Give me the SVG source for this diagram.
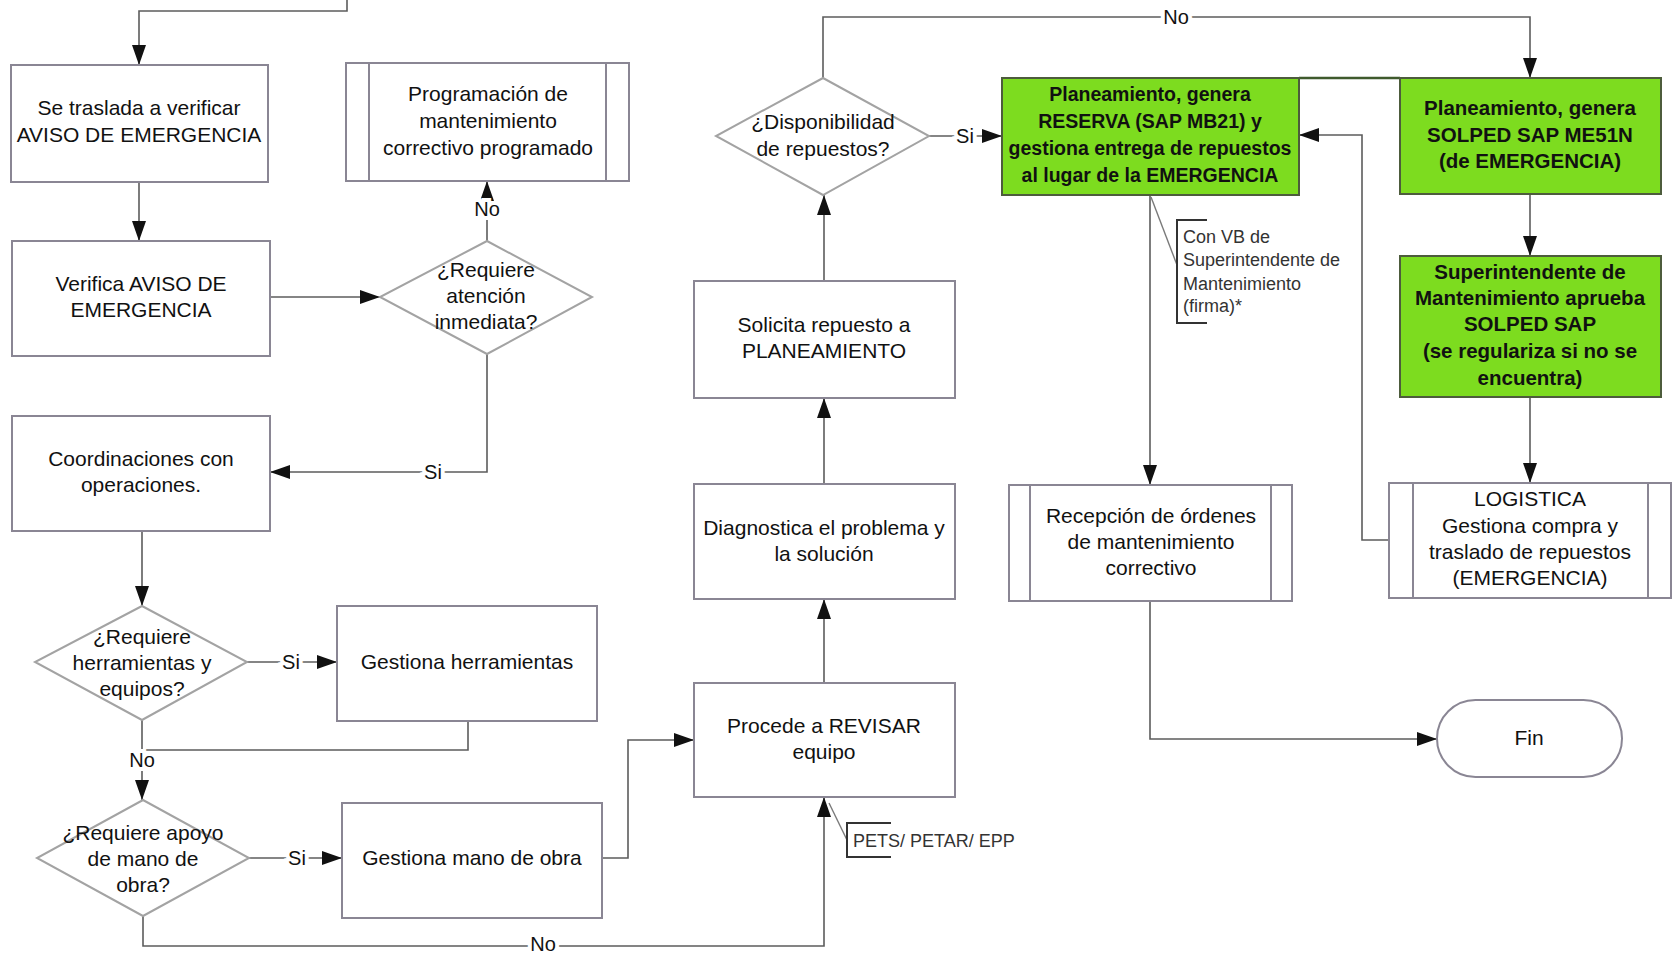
<svg xmlns="http://www.w3.org/2000/svg" width="1678" height="953" viewBox="0 0 1678 953">
  <style>
    .box { fill: #ffffff; stroke: #8a8694; stroke-width: 2; }
    .dia { fill: #ffffff; stroke: #a3a3a3; stroke-width: 2; }
    .green { fill: #7ddc1f; stroke: #4d5c3c; stroke-width: 2; }
    .inner { stroke: #8a8694; stroke-width: 2; fill: none; }
    .t { font-family: "Liberation Sans", Arial, sans-serif; font-size: 21px; fill: #111111; text-anchor: middle; }
    .b { font-family: "Liberation Sans", Arial, sans-serif; font-size: 20.5px; font-weight: bold; fill: #111111; text-anchor: middle; }
    .bs { font-size: 19.5px; }
    .note { font-family: "Liberation Sans", Arial, sans-serif; font-size: 18px; fill: #333333; }
    .lbl { font-family: "Liberation Sans", Arial, sans-serif; font-size: 20px; fill: #111111; text-anchor: middle; paint-order: stroke; stroke: #ffffff; stroke-width: 8px; }
    .c { fill: none; stroke: #5c5c5c; stroke-width: 1.6; }
    .ca { fill: none; stroke: #5c5c5c; stroke-width: 1.6; marker-end: url(#arr); }
    .thin { fill: none; stroke: #7a7a7a; stroke-width: 1.4; }
    .brk { fill: none; stroke: #333333; stroke-width: 2; }
  </style>
  <defs>
    <marker id="arr" markerUnits="userSpaceOnUse" markerWidth="20" markerHeight="14" viewBox="0 0 20 14" refX="20" refY="7" orient="auto">
      <path d="M0,0 L20,7 L0,14 Z" fill="#111111"/>
    </marker>
  </defs>
  <rect x="0" y="0" width="1678" height="953" fill="#ffffff"/>

  <!-- connectors -->
  <g id="connectors">
    <path class="ca" d="M347,0 V11 H139 V65"/>
    <path class="ca" d="M139,182 V241"/>
    <path class="ca" d="M270,297 H380"/>
    <path class="ca" d="M487,241 V181"/>
    <path class="ca" d="M487,354 V472 H270"/>
    <path class="ca" d="M142,531 V606"/>
    <path class="ca" d="M247,662 H337"/>
    <path class="c" d="M468,721 V750 H142"/>
    <path class="ca" d="M142,720 V800"/>
    <path class="ca" d="M249,858 H342"/>
    <path class="ca" d="M602,858 H628 V740 H694"/>
    <path class="ca" d="M143,916 V946 H824 V797"/>
    <path class="ca" d="M824,683 V599"/>
    <path class="ca" d="M824,484 V398"/>
    <path class="ca" d="M824,281 V195"/>
    <path class="ca" d="M929,136 H1002"/>
    <path class="ca" d="M823,78 V17 H1530 V78"/>
    <path class="ca" d="M1530,194 V256"/>
    <path class="ca" d="M1530,397 V483"/>
    <path class="ca" d="M1389,540 H1362 V135 H1299"/>
    <path class="ca" d="M1150,195 V485"/>
    <path class="ca" d="M1150,601 V739 H1437"/>
    <!-- branch labels -->
    <text class="lbl" x="487" y="216">No</text>
    <text class="lbl" x="433" y="479">Si</text>
    <text class="lbl" x="291" y="669">Si</text>
    <text class="lbl" x="142" y="767">No</text>
    <text class="lbl" x="297" y="865">Si</text>
    <text class="lbl" x="543" y="951">No</text>
    <text class="lbl" x="965" y="143">Si</text>
    <text class="lbl" x="1176" y="24">No</text>
  </g>

  <g id="n-traslada">
    <rect class="box" x="11" y="65" width="257" height="117"/>
    <text class="t" x="139" y="115">Se traslada a verificar</text>
    <text class="t" x="139" y="142">AVISO DE EMERGENCIA</text>
  </g>

  <g id="n-verifica">
    <rect class="box" x="12" y="241" width="258" height="115"/>
    <text class="t" x="141" y="291">Verifica AVISO DE</text>
    <text class="t" x="141" y="317">EMERGENCIA</text>
  </g>

  <g id="d-atencion">
    <polygon class="dia" points="487,241 592,297 487,354 380,297"/>
    <text class="t" x="486" y="277">¿Requiere</text>
    <text class="t" x="486" y="303">atención</text>
    <text class="t" x="486" y="329">inmediata?</text>
  </g>

  <g id="n-programacion">
    <rect class="box" x="346" y="63" width="283" height="118"/>
    <path class="inner" d="M369,63 V181 M606,63 V181"/>
    <text class="t" x="488" y="101">Programación de</text>
    <text class="t" x="488" y="128">mantenimiento</text>
    <text class="t" x="488" y="155">correctivo programado</text>
  </g>

  <g id="n-coordinaciones">
    <rect class="box" x="12" y="416" width="258" height="115"/>
    <text class="t" x="141" y="466">Coordinaciones con</text>
    <text class="t" x="141" y="492">operaciones.</text>
  </g>

  <g id="d-herramientas">
    <polygon class="dia" points="142,606 247,662 142,720 35,662"/>
    <text class="t" x="142" y="644">¿Requiere</text>
    <text class="t" x="142" y="670">herramientas y</text>
    <text class="t" x="142" y="696">equipos?</text>
  </g>

  <g id="n-herramientas">
    <rect class="box" x="337" y="606" width="260" height="115"/>
    <text class="t" x="467" y="669">Gestiona herramientas</text>
  </g>

  <g id="d-manoobra">
    <polygon class="dia" points="143,800 249,858 143,916 37,858"/>
    <text class="t" x="143" y="840">¿Requiere apoyo</text>
    <text class="t" x="143" y="866">de mano de</text>
    <text class="t" x="143" y="892">obra?</text>
  </g>

  <g id="n-manoobra">
    <rect class="box" x="342" y="803" width="260" height="115"/>
    <text class="t" x="472" y="865">Gestiona mano de obra</text>
  </g>

  <g id="n-revisar">
    <rect class="box" x="694" y="683" width="261" height="114"/>
    <text class="t" x="824" y="733">Procede a REVISAR</text>
    <text class="t" x="824" y="759">equipo</text>
  </g>

  <g id="a-pets">
    <path class="thin" d="M829,803 L847,840"/>
    <path class="brk" d="M891,823 H847 V857 H891"/>
    <text class="note" x="853" y="847">PETS/ PETAR/ EPP</text>
  </g>

  <g id="n-diagnostica">
    <rect class="box" x="694" y="484" width="261" height="115"/>
    <text class="t" x="824" y="535">Diagnostica el problema y</text>
    <text class="t" x="824" y="561">la solución</text>
  </g>

  <g id="n-solicita">
    <rect class="box" x="694" y="281" width="261" height="117"/>
    <text class="t" x="824" y="332">Solicita repuesto a</text>
    <text class="t" x="824" y="358">PLANEAMIENTO</text>
  </g>

  <g id="d-disponibilidad">
    <polygon class="dia" points="823,78 929,136 823,195 716,136"/>
    <text class="t" x="823" y="129">¿Disponibilidad</text>
    <text class="t" x="823" y="156">de repuestos?</text>
  </g>

  <g id="n-reserva">
    <line x1="1299" y1="78" x2="1400" y2="78" stroke="#3f5a2c" stroke-width="2.5"/>
    <rect class="green" x="1002" y="78" width="297" height="117"/>
    <text class="b bs" x="1150" y="101">Planeamiento, genera</text>
    <text class="b bs" x="1150" y="128">RESERVA (SAP MB21) y</text>
    <text class="b bs" x="1150" y="155">gestiona entrega de repuestos</text>
    <text class="b bs" x="1150" y="182">al lugar de la EMERGENCIA</text>
  </g>

  <g id="a-vb">
    <path class="thin" d="M1151,197 L1177,265"/>
    <path class="brk" d="M1207,220 H1177 V323 H1207"/>
    <text class="note" x="1183" y="243">Con VB de</text>
    <text class="note" x="1183" y="266">Superintendente de</text>
    <text class="note" x="1183" y="290">Mantenimiento</text>
    <text class="note" x="1183" y="312">(firma)*</text>
  </g>

  <g id="n-solped">
    <rect class="green" x="1400" y="78" width="261" height="116"/>
    <text class="b" x="1530" y="115">Planeamiento, genera</text>
    <text class="b" x="1530" y="142">SOLPED SAP ME51N</text>
    <text class="b" x="1530" y="168">(de EMERGENCIA)</text>
  </g>

  <g id="n-aprueba">
    <rect class="green" x="1400" y="256" width="261" height="141"/>
    <text class="b" x="1530" y="279">Superintendente de</text>
    <text class="b" x="1530" y="305">Mantenimiento aprueba</text>
    <text class="b" x="1530" y="331">SOLPED SAP</text>
    <text class="b" x="1530" y="358">(se regulariza si no se</text>
    <text class="b" x="1530" y="385">encuentra)</text>
  </g>

  <g id="n-recepcion">
    <rect class="box" x="1009" y="485" width="283" height="116"/>
    <path class="inner" d="M1030,485 V601 M1271,485 V601"/>
    <text class="t" x="1151" y="523">Recepción de órdenes</text>
    <text class="t" x="1151" y="549">de mantenimiento</text>
    <text class="t" x="1151" y="575">correctivo</text>
  </g>

  <g id="n-logistica">
    <rect class="box" x="1389" y="483" width="282" height="115"/>
    <path class="inner" d="M1413,483 V598 M1648,483 V598"/>
    <text class="t" x="1530" y="506">LOGISTICA</text>
    <text class="t" x="1530" y="533">Gestiona compra y</text>
    <text class="t" x="1530" y="559">traslado de repuestos</text>
    <text class="t" x="1530" y="585">(EMERGENCIA)</text>
  </g>

  <g id="n-fin">
    <rect class="box" x="1437" y="700" width="185" height="77" rx="38.5" ry="38.5"/>
    <text class="t" x="1529" y="745">Fin</text>
  </g>
</svg>
